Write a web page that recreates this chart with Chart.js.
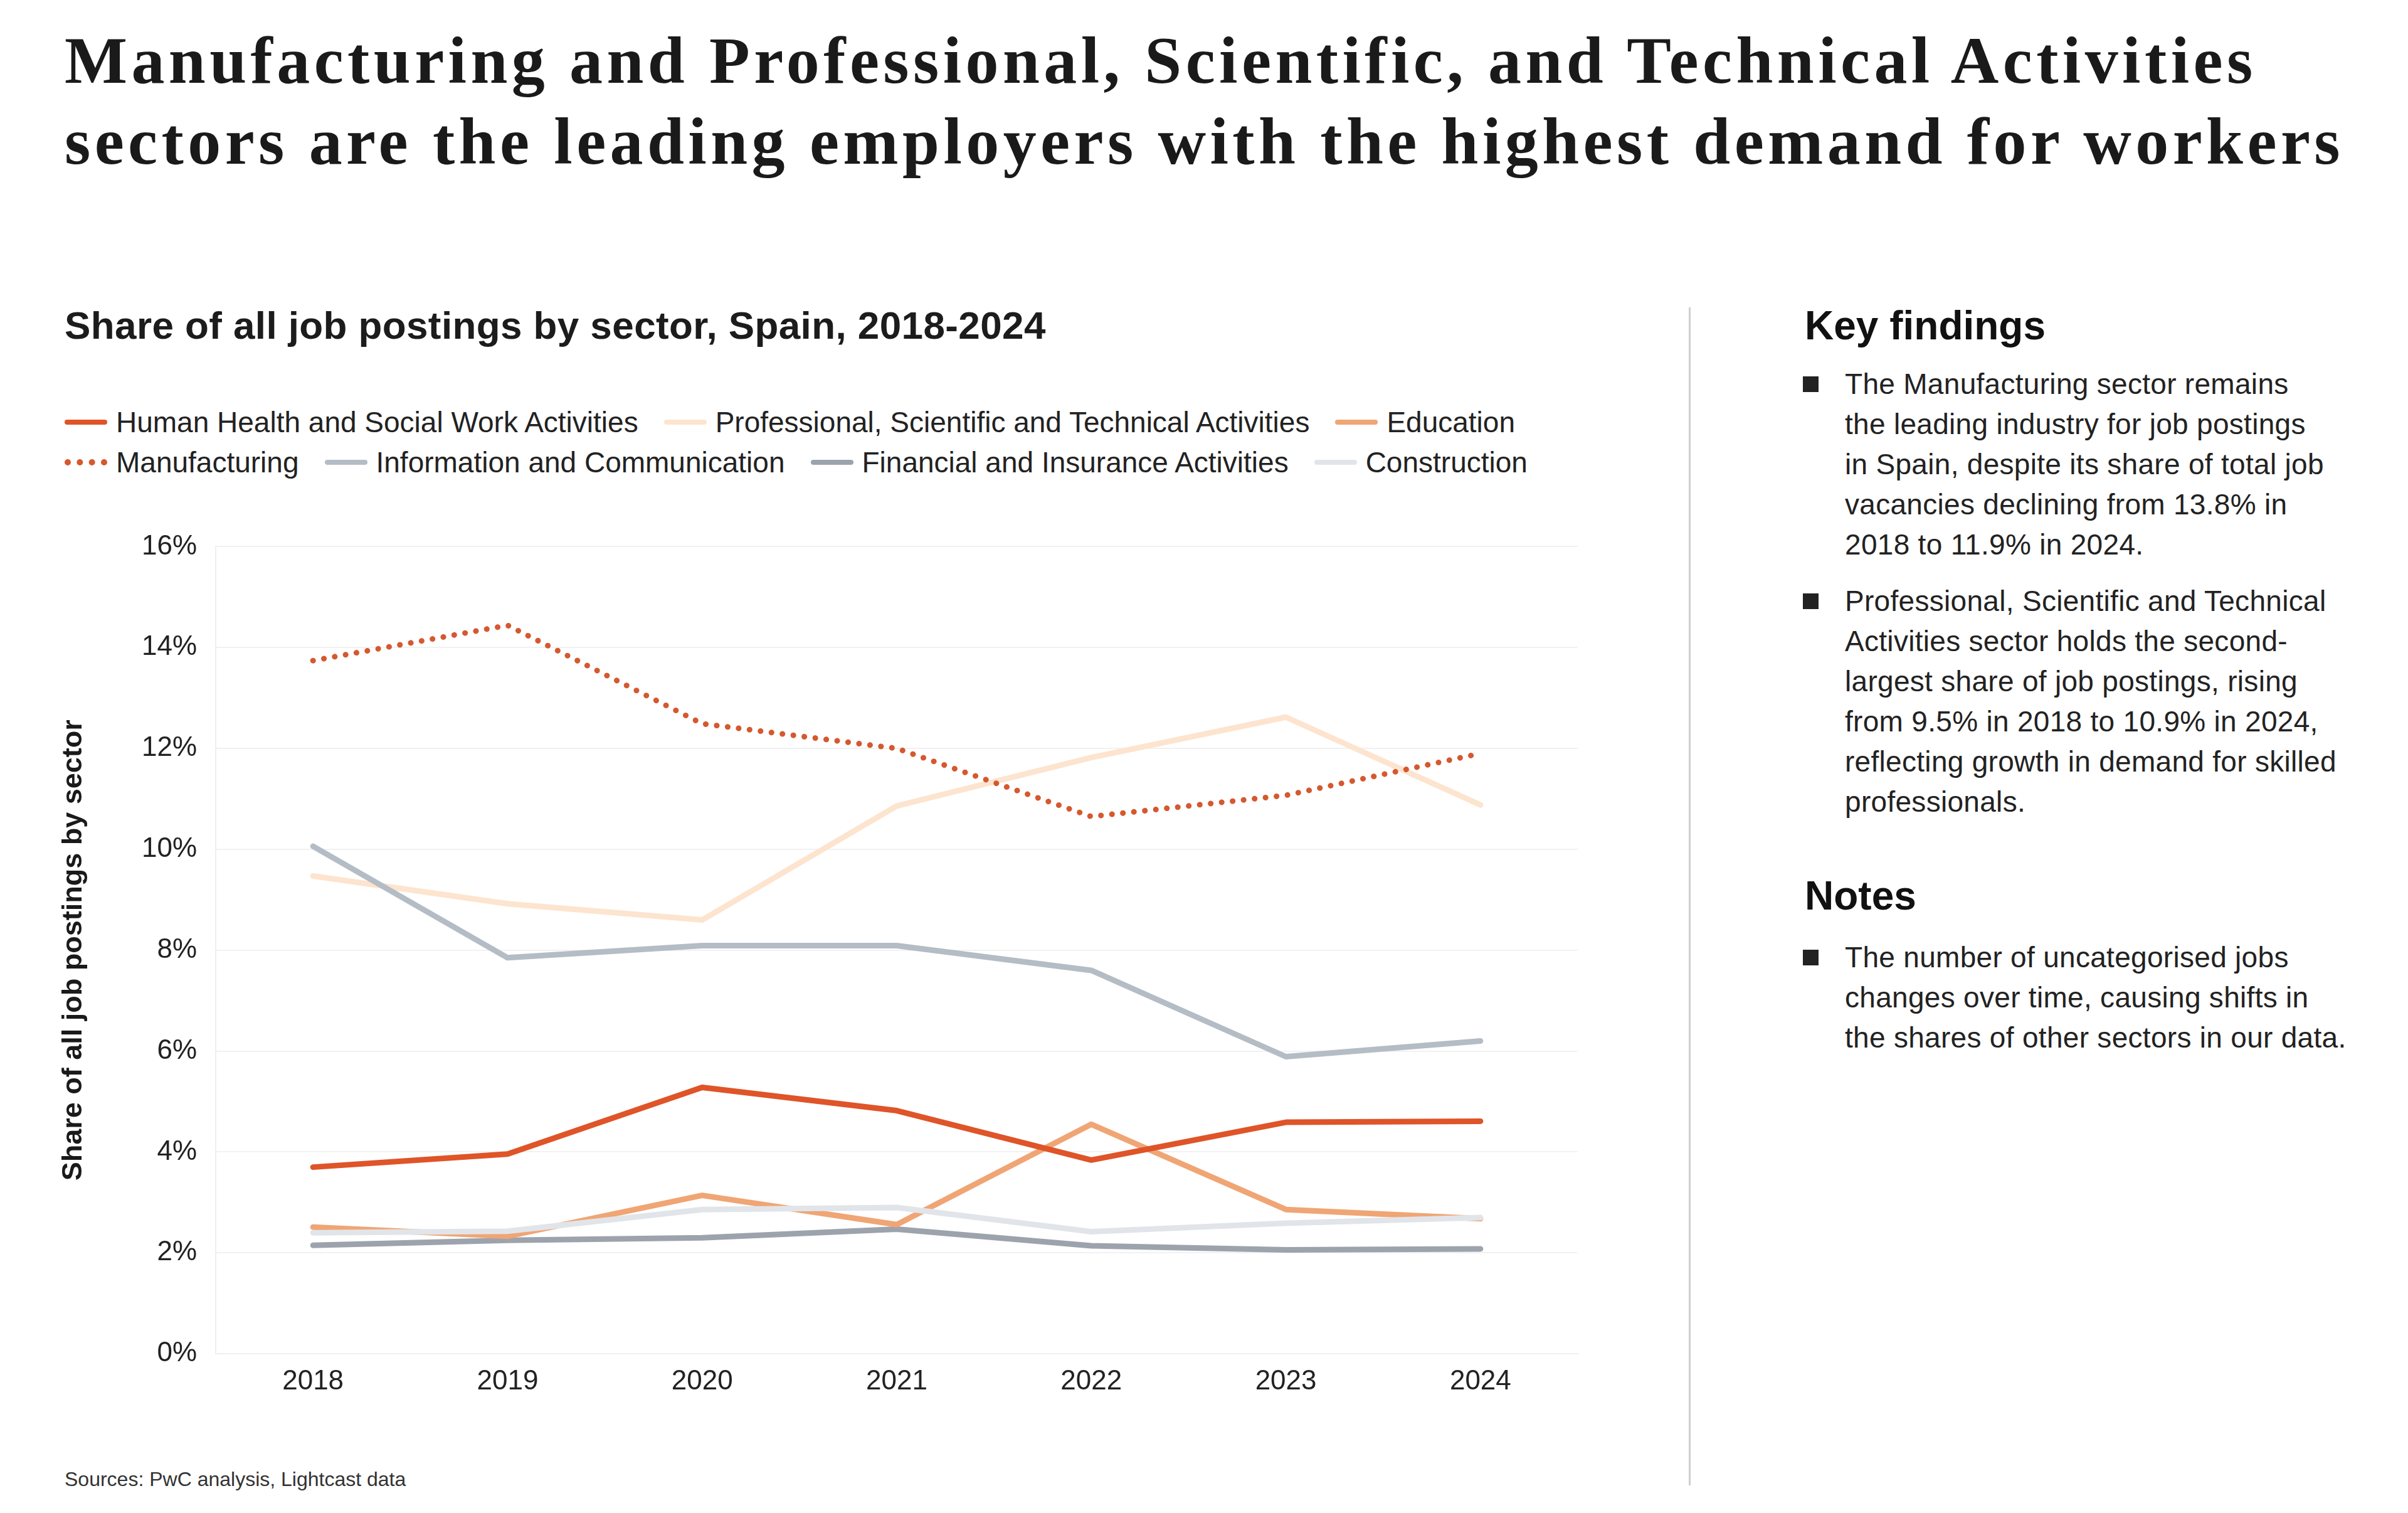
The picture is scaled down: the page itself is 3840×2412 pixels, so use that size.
<!DOCTYPE html>
<html lang="en">
  <head>
    <meta charset="UTF-8" />
    <title>Share of all job postings by sector, Spain, 2018-2024</title>
    <style>
      * {
        margin: 0;
        padding: 0;
        box-sizing: border-box;
      }
      body {
        width: 3840px;
        height: 2412px;
        background: #fff;
        position: relative;
        font-family: "Liberation Sans", Arial, sans-serif;
        color: #1c1c1c;
        overflow: hidden;
      }
      .title {
        position: absolute;
        left: 103px;
        top: 32px;
        font-family: "Liberation Serif", serif;
        font-weight: bold;
        font-size: 106px;
        line-height: 129px;
        letter-spacing: 6.4px;
        color: #1a1a1a;
        white-space: nowrap;
      }
      .subtitle {
        position: absolute;
        left: 103px;
        top: 482px;
        font-weight: bold;
        font-size: 62px;
        line-height: 74px;
        letter-spacing: 0.4px;
      }
      .legend {
        position: absolute;
        left: 103px;
        top: 641px;
        width: 2480px;
        display: flex;
        flex-wrap: wrap;
        column-gap: 41px;
      }
      .legend .item {
        display: flex;
        align-items: center;
        height: 64px;
        font-size: 46px;
        color: #222;
      }
      .legend .swatch {
        width: 68px;
        height: 8px;
        border-radius: 4px;
        margin-right: 14px;
      }
      .legend .swatch.dotted {
        height: 0;
        border-radius: 0;
        border-top: 10px dotted;
      }
      .chartBox {
        position: absolute;
        left: 90px;
        top: 815px;
        width: 2470px;
        height: 1445px;
      }
      .source {
        position: absolute;
        left: 103px;
        top: 2339px;
        font-size: 32px;
        line-height: 38px;
        color: #333;
      }
      .divider {
        position: absolute;
        left: 2693px;
        top: 490px;
        width: 3px;
        height: 1878px;
        background: #cfcfcf;
      }
      .side h2 {
        position: absolute;
        left: 2878px;
        font-size: 64px;
        line-height: 76px;
        font-weight: bold;
        color: #111;
      }
      .side .bullet {
        position: absolute;
        left: 2875px;
        font-size: 46px;
        line-height: 64px;
        letter-spacing: 0.3px;
        padding-left: 67px;
        color: #222;
        white-space: nowrap;
      }
      .side .bullet::before {
        content: "";
        position: absolute;
        left: 0;
        top: 20px;
        width: 25px;
        height: 25px;
        background: #222;
      }
    </style>
  </head>
  <body>
    <div class="title">
      Manufacturing and Professional, Scientific, and Technical Activities<br />
      sectors are the leading employers with the highest demand for workers
    </div>

    <div class="subtitle">Share of all job postings by sector, Spain, 2018-2024</div>
    <div class="legend" id="legend"></div>

    <div class="chartBox">
      <canvas id="myChart"></canvas>
    </div>

    <div class="source">Sources: PwC analysis, Lightcast data</div>

    <div class="divider"></div>

    <div class="side">
      <h2 style="top: 481px">Key findings</h2>
      <div class="bullet" style="top: 580px">
        The Manufacturing sector remains<br />
        the leading industry for job postings<br />
        in Spain, despite its share of total job<br />
        vacancies declining from 13.8% in<br />
        2018 to 11.9% in 2024.
      </div>
      <div class="bullet" style="top: 926px">
        Professional, Scientific and Technical<br />
        Activities sector holds the second-<br />
        largest share of job postings, rising<br />
        from 9.5% in 2018 to 10.9% in 2024,<br />
        reflecting growth in demand for skilled<br />
        professionals.
      </div>
      <h2 style="top: 1390px">Notes</h2>
      <div class="bullet" style="top: 1494px">
        The number of uncategorised jobs<br />
        changes over time, causing shifts in<br />
        the shares of other sectors in our data.
      </div>
    </div>

    <script src="https://cdn.jsdelivr.net/npm/chart.js"></script>

    <script>
      // data block
      const years = ["2018", "2019", "2020", "2021", "2022", "2023", "2024"];
      const sectors = [
        "Human Health and Social Work Activities",
        "Professional, Scientific and Technical Activities",
        "Education",
        "Manufacturing",
        "Information and Communication",
        "Financial and Insurance Activities",
        "Construction"
      ];
      const health = [3.7, 3.96, 5.28, 4.82, 3.84, 4.59, 4.61];
      const professional = [9.47, 8.92, 8.6, 10.86, 11.82, 12.62, 10.88];
      const education = [2.51, 2.33, 3.14, 2.56, 4.55, 2.86, 2.68];
      const manufacturing = [13.74, 14.44, 12.49, 12.0, 10.65, 11.07, 11.9];
      const information = [10.06, 7.85, 8.09, 8.09, 7.6, 5.89, 6.2];
      const financial = [2.15, 2.25, 2.3, 2.47, 2.14, 2.06, 2.08];
      const construction = [2.4, 2.43, 2.86, 2.9, 2.42, 2.59, 2.7];
      const yTicks = [0, 2, 4, 6, 8, 10, 12, 14, 16];

      const series = [health, professional, education, manufacturing, information, financial, construction];
      const colors = ["#df5428", "#fde4cf", "#f0a574", "#d5582f", "#b4bcc5", "#9da3ad", "#e1e5e9"];
      const drawOrder = [1, 6, 4, 0, 2, 5, 3]; // lower = on top

      const datasets = sectors.map((name, i) => ({
        label: name,
        data: series[i],
        borderColor: colors[i],
        backgroundColor: colors[i],
        borderWidth: 9,
        borderCapStyle: "round",
        borderJoinStyle: "round",
        borderDash: name === "Manufacturing" ? [0.1, 17.5] : [],
        pointRadius: 0,
        pointHoverRadius: 0,
        tension: 0,
        order: drawOrder[i]
      }));

      // html legend, two rows like the original
      const legendEl = document.getElementById("legend");
      datasets.forEach((ds) => {
        const item = document.createElement("div");
        item.className = "item";
        const sw = document.createElement("span");
        if (ds.borderDash.length) {
          sw.className = "swatch dotted";
          sw.style.borderTopColor = ds.borderColor;
        } else {
          sw.className = "swatch";
          sw.style.background = ds.borderColor;
        }
        item.appendChild(sw);
        item.appendChild(document.createTextNode(ds.label));
        legendEl.appendChild(item);
      });

      // config block
      const config = {
        type: "line",
        data: { labels: years, datasets },
        options: {
          responsive: true,
          maintainAspectRatio: false,
          animation: false,
          layout: { padding: { top: 41, right: 44, bottom: 13, left: 0 } },
          plugins: {
            legend: { display: false },
            tooltip: { enabled: false }
          },
          scales: {
            x: {
              offset: true,
              grid: { display: false, drawTicks: false },
              border: { color: "#efefef", width: 2 },
              ticks: {
                padding: 18,
                color: "#222",
                font: { family: "Liberation Sans", size: 44 }
              }
            },
            y: {
              min: 0,
              max: 16,
              afterFit: (scale) => {
                scale.width = 254;
              },
              afterBuildTicks: (scale) => {
                scale.ticks = yTicks.map((v) => ({ value: v }));
              },
              grid: { color: "#f1f1f1", lineWidth: 2, drawTicks: false },
              border: { color: "#efefef", width: 2 },
              ticks: {
                padding: 30,
                color: "#222",
                font: { family: "Liberation Sans", size: 44 },
                callback: (v) => v + "%"
              },
              title: {
                display: true,
                text: "Share of all job postings by sector",
                color: "#1a1a1a",
                font: { family: "Liberation Sans", size: 45, weight: "bold" },
                padding: { top: 1, bottom: 0 }
              }
            }
          }
        }
      };

      // init render block
      const myChart = new Chart(document.getElementById("myChart"), config);
    </script>
  </body>
</html>
